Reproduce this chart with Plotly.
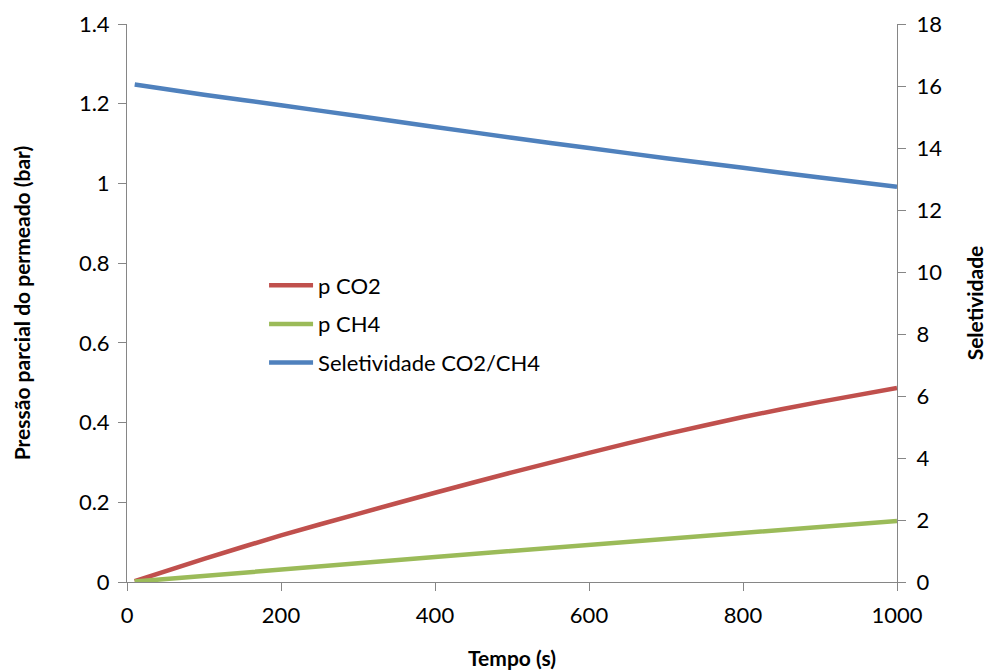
import plotly.graph_objects as go

tempo = [10, 100, 200, 300, 400, 500, 600, 700, 800, 900, 1000]
p_co2 = [0.002, 0.058, 0.117, 0.171, 0.224, 0.275, 0.324, 0.371, 0.414, 0.452, 0.487]
p_ch4 = [0.001, 0.016, 0.032, 0.047, 0.063, 0.078, 0.093, 0.108, 0.123, 0.138, 0.153]
selet = [16.05, 15.72, 15.38, 15.03, 14.68, 14.33, 14.0, 13.67, 13.36, 13.05, 12.75]

FONT = "Lato, 'Open Sans', sans-serif"

fig = go.Figure()
fig.add_trace(go.Scatter(x=tempo, y=p_co2, name="p CO2", mode="lines", legendgroup="a",
                         line=dict(color="#C0504D", width=4.5, shape="spline", smoothing=0.5)))
fig.add_trace(go.Scatter(x=tempo, y=p_ch4, name="p CH4", mode="lines", legendgroup="b",
                         line=dict(color="#9BBB59", width=4.5)))
fig.add_trace(go.Scatter(x=tempo, y=selet, name="Seletividade CO2/CH4", mode="lines", legendgroup="c",
                         line=dict(color="#4F81BD", width=4.5, shape="spline", smoothing=0.5), yaxis="y2"))

axcol = "#868686"
fig.update_layout(
    width=987, height=672,
    margin=dict(l=127, r=90, t=24, b=90, autoexpand=False),
    paper_bgcolor="white", plot_bgcolor="white",
    font=dict(family=FONT, size=22, color="black"),
    showlegend=True,
    legend=dict(x=0.178, y=0.569, xanchor="left", yanchor="top",
                bgcolor="rgba(0,0,0,0)", font=dict(size=22),
                tracegroupgap=7, itemwidth=44),
    xaxis=dict(range=[0, 1000], dtick=200, tick0=0, showgrid=False, zeroline=False,
               automargin=False,
               showline=True, linecolor=axcol, linewidth=1,
               ticks="outside", ticklen=8, tickcolor=axcol, ticklabelstandoff=6,
               title=dict(text="<b>Tempo (s)</b>", font=dict(size=21), standoff=23)),
    yaxis=dict(range=[0, 1.4], dtick=0.2, tick0=0, showgrid=False, zeroline=False,
               automargin=False,
               showline=True, linecolor=axcol, linewidth=1,
               ticks="outside", ticklen=8, tickcolor=axcol, ticklabelstandoff=4,
               title=dict(text="<b>Pressão parcial do permeado (bar)</b>", font=dict(size=21), standoff=42)),
    yaxis2=dict(range=[0, 18], dtick=2, tick0=0, overlaying="y", side="right",
                automargin=False,
                showgrid=False, zeroline=False,
                showline=True, linecolor=axcol, linewidth=1,
                ticks="outside", ticklen=8, tickcolor=axcol, ticklabelstandoff=6,
                title=dict(text="<b>Seletividade</b>", font=dict(size=21), standoff=33)),
)

fig.write_html("out.html",
               config={"displayModeBar": False},
               post_script="document.body.style.margin='0';document.body.style.overflow='hidden';")
